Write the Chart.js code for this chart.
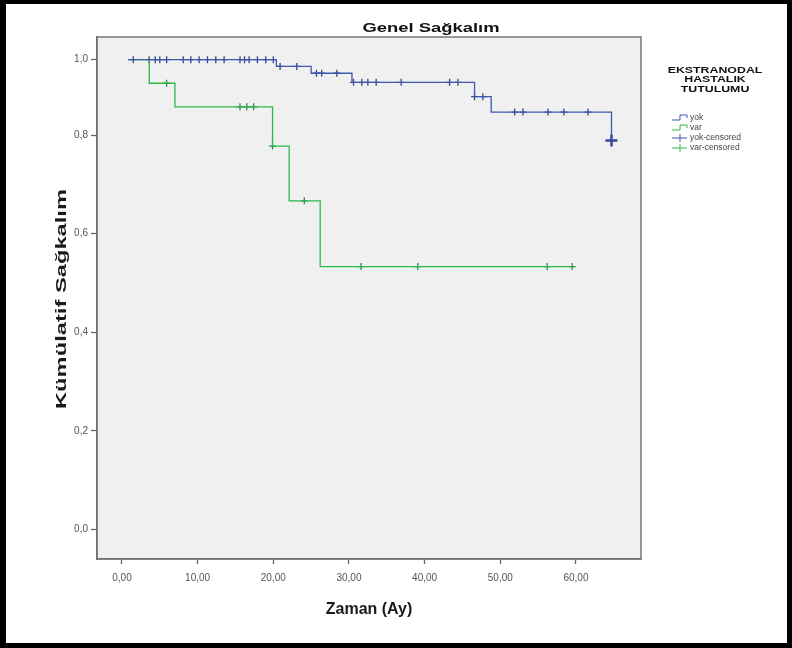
<!DOCTYPE html>
<html>
<head>
<meta charset="utf-8">
<script src="https://cdn.jsdelivr.net/npm/chart.js@4.4.1/dist/chart.umd.min.js"></script>
<style>
  html, body { margin: 0; padding: 0; background: #fff; }
  #wrap { position: relative; width: 792px; height: 648px; }
  #frame {
    position: absolute; left: 0; top: 0; right: 0; bottom: 0;
    box-sizing: border-box; border: solid #000; border-width: 4px 5px 5px 6px;
    pointer-events: none;
  }
</style>
</head>
<body>
<div id="wrap">
  <canvas id="kmChart" width="792" height="648"></canvas>
  <div id="frame"></div>
</div>
<script>
// ===== Kaplan-Meier verileri (ay) =====
// olay zamanları ve her olaydan sonraki kümülatif sağkalım
const yokTimes    = [0.8, 20.4, 25.0, 30.4, 46.6, 48.8, 64.7];
const yokSurvival = [1, 0.982, 0.964, 0.940, 0.902, 0.861, 0.789];
const yokCensored = [1.5, 3.6, 4.4, 5.0, 5.9, 8.1, 9.1, 10.2, 11.3, 12.4, 13.5, 15.6, 16.2, 16.8,
                     17.9, 19.0, 20.0, 20.9, 23.1, 25.7, 26.4, 28.4, 30.6, 31.7, 32.5, 33.6, 36.9,
                     43.3, 44.4, 46.6, 47.7, 51.9, 53.0, 56.3, 58.4, 61.6, 64.7];

const varTimes    = [0.8, 3.6, 7.0, 19.9, 22.1, 26.2, 59.5];
const varSurvival = [1, 0.9375, 0.875, 0.7778, 0.6667, 0.5333, 0.5333];
const varCensored = [5.9, 15.6, 16.5, 17.4, 19.9, 24.1, 31.6, 39.1, 56.2, 59.5];

const groupLabels = ['yok', 'var', 'yok-censored', 'var-censored'];
const legendTitle = ['EKSTRANODAL', 'HASTALIK', 'TUTULUMU'];

const xTickValues = [0, 10, 20, 30, 40, 50, 60];
const yTickValues = [0, 0.2, 0.4, 0.6, 0.8, 1.0];

const BLUE = '#3E58AC';
const GREEN = '#2EB848';
const FONT = "'Liberation Sans', Arial, sans-serif";

// basamak fonksiyonu: t anındaki sağkalım
function survivalAt(times, surv, t) {
    let s = surv[0];
    for (let i = 0; i < times.length; i++) {
        if (times[i] <= t + 1e-9) s = surv[i];
    }
    return s;
}

function toPoints(xs, ys) {
    return xs.map((x, i) => ({ x: x, y: ys[i] }));
}

// yatayda gerilmiş metin (genişlik piksel olarak verilir)
function stretchedText(ctx, text, x, y, width, angle) {
    const w = ctx.measureText(text).width;
    ctx.save();
    ctx.translate(x, y);
    if (angle) ctx.rotate(angle);
    ctx.scale(width / w, 1);
    ctx.fillText(text, 0, 0);
    ctx.restore();
}

// y ekseni: 0,8 üstü bölüm sıkıştırılmış doğrusal ölçek
class BentScale extends Chart.LinearScale {
    _decimalFor(value) {
        const b = this.options.bend;
        const min = this.min, max = this.max;
        if (value <= b.value) return (value - min) / (b.value - min) * b.at;
        return b.at + (value - b.value) / (max - b.value) * (1 - b.at);
    }
    getPixelForValue(value) {
        if (value === null) return NaN;
        return this.getPixelForDecimal(this._decimalFor(value));
    }
    getValueForPixel(pixel) {
        const d = this.getDecimalForPixel(pixel);
        const b = this.options.bend;
        if (d <= b.at) return this.min + d / b.at * (b.value - this.min);
        return b.value + (d - b.at) / (1 - b.at) * (this.max - b.value);
    }
}
BentScale.id = 'bent';
BentScale.defaults = Chart.LinearScale.defaults;
Chart.register(BentScale);

// çizim alanı zemini, çerçeve, başlıklar ve gösterge
const plotDecor = {
    id: 'plotDecor',
    beforeDraw(chart) {
        const { ctx, chartArea: a } = chart;
        ctx.save();
        ctx.fillStyle = '#f0f0f0';
        ctx.fillRect(a.left, a.top, a.right - a.left, a.bottom - a.top);
        ctx.restore();
    },
    beforeDatasetsDraw(chart) {
        const { ctx, chartArea: a } = chart;
        ctx.save();
        ctx.strokeStyle = '#777';
        ctx.lineWidth = 1.5;
        ctx.strokeRect(a.left, a.top, a.right - a.left, a.bottom - a.top);
        ctx.restore();
    },
    afterDraw(chart) {
        const { ctx, chartArea: a } = chart;
        ctx.save();
        ctx.textAlign = 'center';
        ctx.textBaseline = 'middle';

        // grafik başlığı
        ctx.fillStyle = '#111';
        ctx.font = 'bold 13px ' + FONT;
        stretchedText(ctx, 'Genel Sağkalım', 431, 28, 137);

        // y ekseni başlığı
        ctx.fillStyle = '#1a1a1a';
        ctx.font = 'bold 15px ' + FONT;
        stretchedText(ctx, 'Kümülatif Sağkalım', 62, (a.top + a.bottom) / 2 + 1, 220, -Math.PI / 2);

        // gösterge başlığı
        const lx = a.right + 74;
        ctx.fillStyle = '#111';
        ctx.font = 'bold 9.5px ' + FONT;
        legendTitle.forEach((t, i) => {
            const w = ctx.measureText(t).width * 1.3;
            stretchedText(ctx, t, lx, 70 + i * 9.5, w);
        });

        // gösterge öğeleri
        const colors = [BLUE, GREEN, BLUE, GREEN];
        ctx.font = '8.5px ' + FONT;
        ctx.textAlign = 'left';
        groupLabels.forEach((label, i) => {
            const y = 118 + i * 10;
            const x0 = a.right + 31;
            ctx.strokeStyle = colors[i];
            ctx.lineWidth = 1;
            ctx.beginPath();
            if (i < 2) {
                ctx.moveTo(x0, y + 2); ctx.lineTo(x0 + 8, y + 2);
                ctx.lineTo(x0 + 8, y - 3); ctx.lineTo(x0 + 15, y - 3);
                ctx.lineTo(x0 + 15, y);
            } else {
                ctx.moveTo(x0, y); ctx.lineTo(x0 + 15, y);
                ctx.moveTo(x0 + 8, y - 4); ctx.lineTo(x0 + 8, y + 4);
            }
            ctx.stroke();
            ctx.fillStyle = '#444';
            ctx.fillText(label, x0 + 18, y);
        });
        ctx.restore();
    }
};

const isEndMark = c => c.datasetIndex === 2 && c.dataIndex === c.dataset.data.length - 1;

new Chart(document.getElementById('kmChart'), {
    type: 'scatter',
    data: {
        datasets: [
            {
                label: groupLabels[0],
                data: toPoints(yokTimes, yokSurvival),
                showLine: true, stepped: true,
                borderColor: BLUE, borderWidth: 1.3,
                pointRadius: 0
            },
            {
                label: groupLabels[1],
                data: toPoints(varTimes, varSurvival),
                showLine: true, stepped: true,
                borderColor: GREEN, borderWidth: 1.3,
                pointRadius: 0
            },
            {
                label: groupLabels[2],
                data: yokCensored.map(t => ({ x: t, y: survivalAt(yokTimes, yokSurvival, t) })),
                showLine: false,
                pointStyle: 'cross',
                pointRadius: c => isEndMark(c) ? 6 : 3.5,
                pointBorderWidth: c => isEndMark(c) ? 2.5 : 1.3,
                borderColor: '#34488f'
            },
            {
                label: groupLabels[3],
                data: varCensored.map(t => ({ x: t, y: survivalAt(varTimes, varSurvival, t) })),
                showLine: false,
                pointStyle: 'cross', pointRadius: 3.5, pointBorderWidth: 1.3,
                borderColor: '#2a8f45'
            }
        ]
    },
    options: {
        responsive: false,
        animation: false,
        layout: { padding: { left: 0, top: 37, right: 151, bottom: 0 } },
        plugins: {
            legend: { display: false },
            tooltip: { enabled: false }
        },
        scales: {
            x: {
                type: 'linear', position: 'bottom',
                min: -3.3, max: 68.6,
                afterBuildTicks: s => { s.ticks = xTickValues.map(v => ({ value: v })); },
                afterFit: s => { s.height = 89; },
                grid: { drawOnChartArea: false, drawTicks: true, tickLength: 5, tickColor: '#666', tickWidth: 1.3 },
                border: { display: true, color: '#666', width: 1.5 },
                ticks: {
                    color: '#555', padding: 8,
                    font: { family: FONT, size: 10 },
                    callback: v => v.toFixed(2).replace('.', ',')
                },
                title: {
                    display: true, text: 'Zaman (Ay)', color: '#1a1a1a',
                    font: { family: FONT, size: 16, weight: 'bold' },
                    padding: { top: 0, bottom: 29 }
                }
            },
            y: {
                type: 'bent', position: 'left',
                min: -0.06, max: 1.06,
                bend: { value: 0.8, at: 0.812 },
                afterBuildTicks: s => { s.ticks = yTickValues.map(v => ({ value: v })); },
                afterFit: s => { s.width = 97; },
                grid: { drawOnChartArea: false, drawTicks: true, tickLength: 6, tickColor: '#666', tickWidth: 1.3 },
                border: { display: true, color: '#666', width: 1.5 },
                ticks: {
                    color: '#555', padding: 3,
                    font: { family: FONT, size: 10 },
                    callback: v => v.toFixed(1).replace('.', ',')
                },
                title: { display: false }
            }
        }
    },
    plugins: [plotDecor]
});
</script>
</body>
</html>
